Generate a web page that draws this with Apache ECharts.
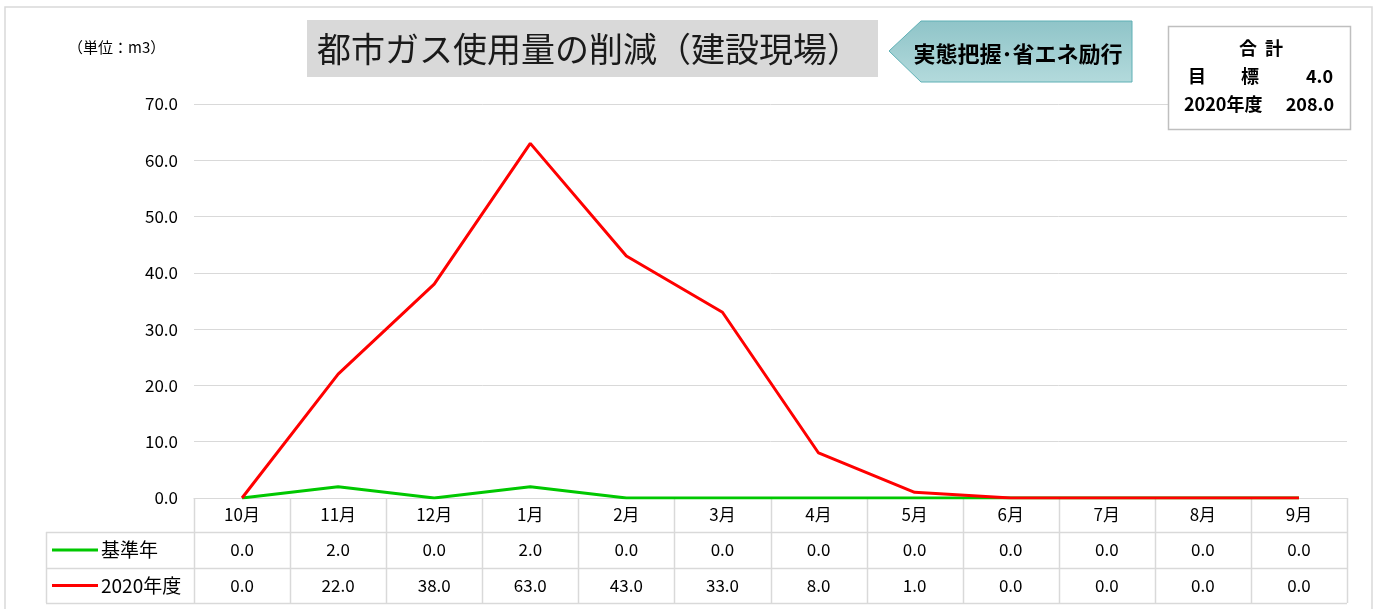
<!DOCTYPE html>
<html>
<head>
<meta charset="utf-8">
<script src="https://cdn.jsdelivr.net/npm/echarts@6/dist/echarts.min.js"></script>
<style>
  html, body { margin: 0; padding: 0; background: #fff; }
  #main { width: 1378px; height: 609px; }
</style>
</head>
<body>
<div id="main"></div>
<script>
// 都市ガス使用量の削減（建設現場）
var months = ['10月', '11月', '12月', '1月', '2月', '3月', '4月', '5月', '6月', '7月', '8月', '9月']
var baseYear = [0, 2, 0, 2, 0, 0, 0, 0, 0, 0, 0, 0]
var fy2020 = [0, 22, 38, 63, 43, 33, 8, 1, 0, 0, 0, 0]
var seriesNames = ['基準年', '2020年度']
var seriesColors = ['#00c800', '#ff0000']
var totalTarget = '4.0'
var total2020 = '208.0'

var jp = '"Noto Sans CJK JP", sans-serif'
var chart = echarts.init(document.getElementById('main'))

var option = {
    animation: false,
    grid: { left: 194, right: 31, top: 104, bottom: 111 },
    xAxis: {
        type: 'category',
        data: months,
        boundaryGap: true,
        axisLine: { lineStyle: { color: '#d9d9d9', width: 1 } },
        axisTick: { show: false },
        axisLabel: { color: '#000', fontSize: 17, fontFamily: jp, margin: 8 }
    },
    yAxis: {
        type: 'value',
        min: 0,
        max: 70,
        interval: 10,
        axisLine: { show: false },
        axisTick: { show: false },
        splitLine: { lineStyle: { color: '#d9d9d9' } },
        axisLabel: {
            color: '#000', fontSize: 17, fontFamily: jp, margin: 16,
            formatter: function (v) { return v.toFixed(1) }
        }
    },
    series: [{
        name: seriesNames[0],
        type: 'line',
        data: baseYear,
        showSymbol: false,
        lineStyle: { color: seriesColors[0], width: 3 },
        z: 3
    }, {
        name: seriesNames[1],
        type: 'line',
        data: fy2020,
        showSymbol: false,
        lineStyle: { color: seriesColors[1], width: 3 },
        z: 4
    }]
}
chart.setOption(option)

// データテーブルと装飾
function buildGraphics() {
    var els = []
    var c0 = chart.convertToPixel({ xAxisIndex: 0 }, 0)
    var c1 = chart.convertToPixel({ xAxisIndex: 0 }, 1)
    var w = c1 - c0
    var left = c0 - w / 2
    var right = left + w * months.length
    var top = chart.convertToPixel({ yAxisIndex: 0 }, 0)
    var rowY = [top, top + 34, top + 70, top + 105]
    var legL = 46
    var gray = '#d9d9d9'

    // 外枠
    els.push({ type: 'rect', shape: { x: 5, y: 7, width: 1367, height: 610 },
        style: { fill: 'none', stroke: gray, lineWidth: 1.5 }, silent: true })

    // 縦線
    for (var i = 0; i <= months.length; i++) {
        var x = Math.round(left + w * i) + 0.5
        els.push({ type: 'line', shape: { x1: x, y1: rowY[0], x2: x, y2: rowY[3] },
            style: { stroke: gray, lineWidth: 1.5 } })
    }
    var lx = legL + 0.5
    els.push({ type: 'line', shape: { x1: lx, y1: rowY[1], x2: lx, y2: rowY[3] },
        style: { stroke: gray, lineWidth: 1.5 } })
    // 横線
    for (var r = 1; r < 4; r++) {
        var y = Math.round(rowY[r]) + 0.5
        els.push({ type: 'line', shape: { x1: legL, y1: y, x2: right, y2: y },
            style: { stroke: gray, lineWidth: 1.5 } })
    }

    var rows = [baseYear, fy2020]
    rows.forEach(function (vals, k) {
        var cy = (rowY[k + 1] + rowY[k + 2]) / 2
        els.push({ type: 'line', shape: { x1: 52, y1: cy, x2: 98, y2: cy },
            style: { stroke: seriesColors[k], lineWidth: 3 } })
        els.push({ type: 'text', x: 101, y: cy,
            style: { text: seriesNames[k], fill: '#000', font: '19px ' + jp, align: 'left', verticalAlign: 'middle' } })
        vals.forEach(function (v, i) {
            els.push({ type: 'text', x: chart.convertToPixel({ xAxisIndex: 0 }, i), y: cy,
                style: { text: v.toFixed(1), fill: '#000', font: '17px ' + jp, align: 'center', verticalAlign: 'middle' } })
        })
    })

    // 単位
    els.push({ type: 'text', x: 68, y: 47,
        style: { text: '（単位：m3）', fill: '#000', font: '15px ' + jp, align: 'left', verticalAlign: 'middle' } })

    // タイトル
    els.push({ type: 'rect', shape: { x: 307, y: 20, width: 571, height: 57 },
        style: { fill: '#d9d9d9' } })
    els.push({ type: 'text', x: 589, y: 49,
        style: { text: '都市ガス使用量の削減（建設現場）', fill: '#1a1a1a', font: '34px ' + jp, align: 'center', verticalAlign: 'middle' } })

    // 矢印ラベル
    els.push({ type: 'polygon', shape: { points: [[889, 51], [921, 21], [1132, 21], [1132, 82], [921, 82]] },
        style: {
            fill: new echarts.graphic.LinearGradient(0, 0, 0, 1, [
                { offset: 0, color: '#8fc4c8' }, { offset: 1, color: '#b3dadc' }]),
            stroke: '#5fb0b5', lineWidth: 1
        } })
    els.push({ type: 'text', x: 1018, y: 54,
        style: { text: '実態把握･省エネ励行', fill: '#000', font: 'bold 22px ' + jp, align: 'center', verticalAlign: 'middle' } })

    // 合計ボックス
    els.push({ type: 'rect', shape: { x: 1168.5, y: 26.5, width: 182, height: 103 },
        style: { fill: '#fff', stroke: '#bfbfbf', lineWidth: 1.5 } })
    var bf = 'bold 18px ' + jp
    els.push({ type: 'text', x: 1261, y: 48, style: { text: '合  計', fill: '#000', font: bf, align: 'center', verticalAlign: 'middle' } })
    els.push({ type: 'text', x: 1188, y: 76, style: { text: '目', fill: '#000', font: bf, align: 'left', verticalAlign: 'middle' } })
    els.push({ type: 'text', x: 1250, y: 76, style: { text: '標', fill: '#000', font: bf, align: 'center', verticalAlign: 'middle' } })
    els.push({ type: 'text', x: 1333, y: 76, style: { text: totalTarget, fill: '#000', font: bf, align: 'right', verticalAlign: 'middle' } })
    els.push({ type: 'text', x: 1184, y: 104, style: { text: '2020年度', fill: '#000', font: bf, align: 'left', verticalAlign: 'middle' } })
    els.push({ type: 'text', x: 1334, y: 104, style: { text: total2020, fill: '#000', font: bf, align: 'right', verticalAlign: 'middle' } })

    chart.setOption({ graphic: { elements: els } })
}
buildGraphics()
</script>
</body>
</html>
